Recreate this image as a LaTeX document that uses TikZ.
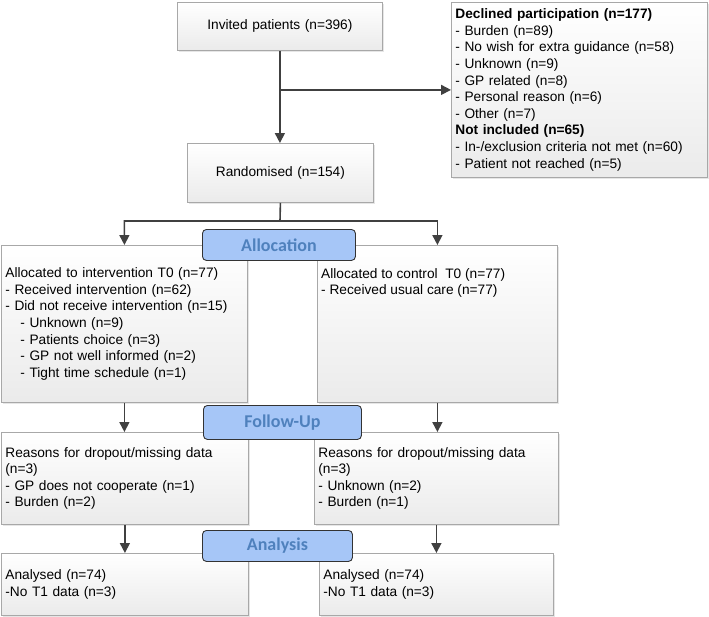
\documentclass[tikz,border=0pt]{standalone}
\usepackage{fontspec}
\setmainfont{Liberation Sans}
\newfontfamily\phasefont{Carlito}
\usetikzlibrary{positioning, arrows.meta, shadows}
\definecolor{phasefill}{RGB}{166,198,247}
\definecolor{phaseblue}{RGB}{79,129,189}
\definecolor{linegray}{RGB}{64,64,64}
\definecolor{framegray}{RGB}{168,168,168}

\begin{document}
\begin{tikzpicture}[x=1pt, y=-1pt,
    txt/.style={align=left, inner sep=4pt, font=\fontsize{13.7}{16.6}\selectfont},
    panel/.style={txt, draw=framegray, line width=0.8pt, top color=white, bottom color=black!8,
      anchor=north west, drop shadow={shadow xshift=1.5pt, shadow yshift=-1.5pt, opacity=0.2}},
    phase/.style={draw=black!80, line width=0.9pt, fill=phasefill, rounded corners=4pt, anchor=north west,
      inner sep=0pt, text=phaseblue, font=\phasefont\bfseries\fontsize{18}{20}\selectfont},
    flow/.style={linegray, line width=1.6pt, -{Triangle[length=10pt, width=10pt]}}]
      \useasboundingbox (0,0) rectangle (709,616);
      % enrolment
      \node[panel, align=center, text width=197pt, minimum height=48pt] (inv) at (177,2) {Invited patients (n=396)};
      \node[panel, text width=248pt, minimum height=175pt] (decl) at (451,2) {\textbf{Declined participation (n=177)}\\
        - Burden (n=89)\\- No wish for extra guidance (n=58)\\- Unknown (n=9)\\- GP related (n=8)\\
        - Personal reason (n=6)\\- Other (n=7)\\\textbf{Not included (n=65)}\\
        - In-/exclusion criteria not met (n=60)\\- Patient not reached (n=5)};
      \node[panel, align=center, text width=178pt, minimum height=59pt] (rand) at (187,143) {Randomised (n=154)};
      % allocation
      \node[panel, text width=238pt, minimum height=157pt] (allocI) at (1,245) {Allocated to intervention T0 (n=77)\\
        - Received intervention (n=62)\\- Did not receive intervention (n=15)\\
        \hspace*{15pt}- Unknown (n=9)\\\hspace*{15pt}- Patients choice (n=3)\\
        \hspace*{15pt}- GP not well informed (n=2)\\\hspace*{15pt}- Tight time schedule (n=1)};
      \node[panel, text width=232pt, minimum height=157pt] (allocC) at (317,245) {};
      \node[txt, below right=19pt and 0pt of allocC.north west] (allocCtext) {Allocated to control\ \ T0 (n=77)\\
        - Received usual care (n=77)};
      % follow-up
      \node[panel, text width=239pt, minimum height=92pt] (reasI) at (1,432) {Reasons for dropout/missing data\\(n=3)\\
        - GP does not cooperate (n=1)\\- Burden (n=2)};
      \node[panel, text width=236pt, minimum height=92pt] (reasC) at (314,432) {Reasons for dropout/missing data\\(n=3)\\
        - Unknown (n=2)\\- Burden (n=1)};
      % analysis
      \node[panel, text width=239pt, minimum height=62pt] (anaI) at (1,553) {Analysed (n=74)\\-No T1 data (n=3)};
      \node[panel, text width=226pt, minimum height=62pt] (anaC) at (319,553) {Analysed (n=74)\\-No T1 data (n=3)};

      \coordinate (fork) at (280,221);
      \path[flow]
                (inv.south) edge (inv.south |- rand.north)
                (inv.south |- decl.west) edge (decl.west)
                (allocI.south) edge (allocI.south |- reasI.north)
                (allocC.south) edge (allocC.south |- reasC.north)
                (reasI.south) edge (reasI.south |- anaI.north)
                (reasC.south) edge (reasC.south |- anaC.north);
      \draw[flow] (rand.south) -- (fork) -| (allocI.north);
      \draw[flow] (fork) -| (allocC.north);

      \node[phase, minimum width=153pt, minimum height=31pt] (allocation) at (202,229) {Allocation};
      \node[phase, minimum width=158pt, minimum height=34pt] (followup) at (203,405) {Follow-Up};
      \node[phase, minimum width=150pt, minimum height=31pt] (analysis) at (202,530) {Analysis};
\end{tikzpicture}
\end{document}
